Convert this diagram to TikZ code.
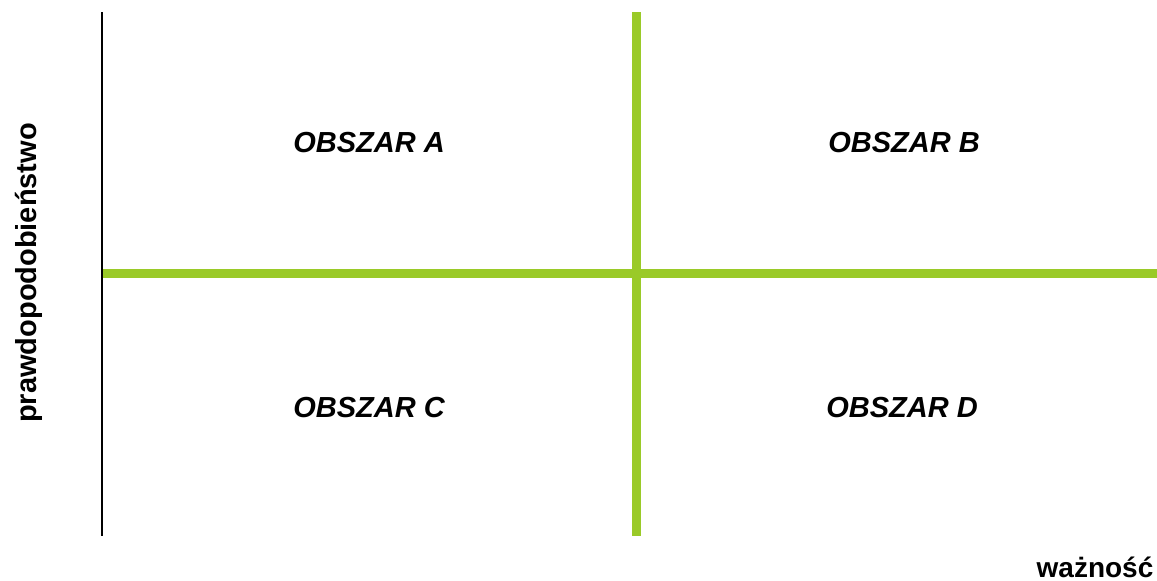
\documentclass[tikz,border=0pt]{standalone}
\usepackage{fontspec}
\setmainfont{Liberation Sans}
\usepackage{tikz}
\usetikzlibrary{positioning}
\definecolor{zielony}{RGB}{154,202,40}

\begin{document}
\begin{tikzpicture}[x=1pt, y=-1pt,
    obszar/.style={font=\fontsize{29}{34}\selectfont\bfseries\itshape, anchor=base, inner sep=0pt},
    osopis/.style={font=\fontsize{28}{33}\selectfont\bfseries, anchor=base, inner sep=0pt},
    podzial/.style={zielony, line width=9pt}]
  \useasboundingbox (0,0) rectangle (1157,581);

  % ============ OSIE I PODZIAL ============
  \coordinate (osgora)  at (102,12);
  \coordinate (osdol)   at (102,536);
  \coordinate (polewo)  at (102,273);
  \coordinate (poprawo) at (1157,273);
  \coordinate (pigora)  at (636,12);
  \coordinate (pidol)   at (636,536);

  \draw[podzial] (polewo) -- (poprawo);
  \draw[podzial] (pigora) -- (pidol);
  \draw[line width=2pt] (osgora) -- (osdol);

  % ============ OBSZARY ============
  \node[obszar] (obszA) at (369,152) {OBSZAR A};
  \node[obszar] (obszB) at (904,152) {OBSZAR B};
  \node[obszar] (obszC) at (369,417) {OBSZAR C};
  \node[obszar] (obszD) at (902,417) {OBSZAR D};

  % ============ OPISY OSI ============
  \node[osopis, rotate=90, font=\fontsize{29}{34}\selectfont\bfseries] (prawd) at (36,273) {prawdopodobieństwo};
  \node[osopis] (waz) at (1095,577) {ważność};
\end{tikzpicture}
\end{document}
